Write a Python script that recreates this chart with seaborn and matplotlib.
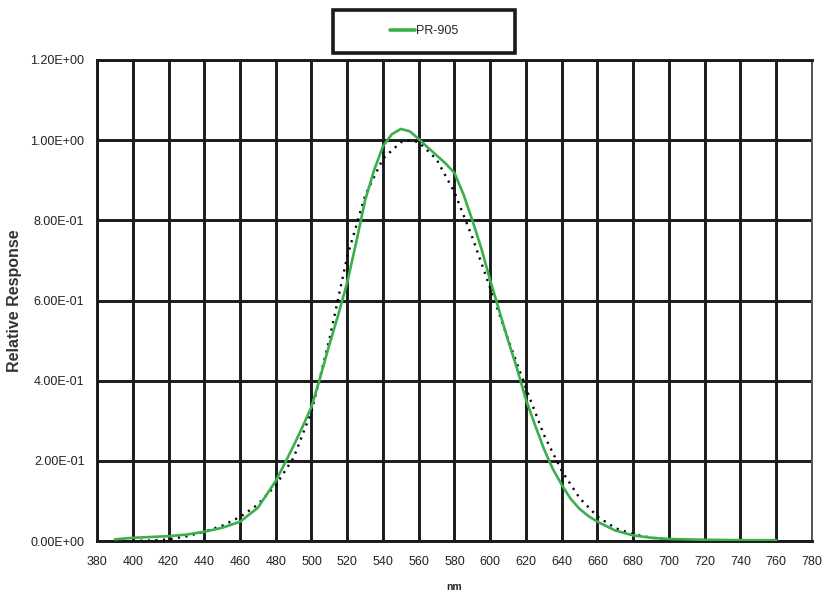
import matplotlib
matplotlib.use("Agg")
import matplotlib.pyplot as plt
import seaborn as sns
import pandas as pd
from matplotlib.patches import Rectangle
from matplotlib.ticker import FuncFormatter

# ---- data ----
wl_pr905 = [390, 400, 410, 420, 430, 440, 450, 460, 470, 480, 485, 490, 495, 500, 505,
            510, 515, 520, 525, 530, 535, 540, 545, 550, 555, 560, 565, 570, 575, 580,
            585, 590, 595, 600, 605, 610, 615, 620, 625, 630, 635, 640, 645, 650, 655,
            660, 670, 680, 690, 700, 710, 720, 740, 760]
pr905 = [0.004, 0.008, 0.010, 0.012, 0.016, 0.023, 0.033, 0.048, 0.083, 0.150, 0.193,
         0.238, 0.285, 0.335, 0.41, 0.49, 0.565, 0.645, 0.745, 0.85, 0.925, 0.985, 1.015,
         1.028, 1.022, 1.003, 0.982, 0.962, 0.942, 0.918, 0.865, 0.80, 0.73, 0.65, 0.575,
         0.50, 0.43, 0.352, 0.29, 0.23, 0.18, 0.14, 0.105, 0.08, 0.062, 0.048, 0.026,
         0.014, 0.008, 0.005, 0.004, 0.003, 0.002, 0.002]

wl_ref = [400, 410, 420, 430, 440, 450, 460, 470, 480, 490, 500, 510, 520, 530, 540,
          550, 555, 560, 570, 580, 590, 600, 610, 620, 630, 640, 650, 660, 670, 680,
          690, 700, 710, 720]
ref = [0.0004, 0.0012, 0.004, 0.0116, 0.023, 0.038, 0.06, 0.091, 0.139, 0.208, 0.323,
       0.503, 0.71, 0.862, 0.954, 0.995, 1.0, 0.995, 0.952, 0.87, 0.757, 0.631, 0.503,
       0.381, 0.265, 0.175, 0.107, 0.061, 0.032, 0.017, 0.0082, 0.0041, 0.0021, 0.001]

x_ticks = list(range(380, 781, 20))
y_ticks = [0.0, 0.2, 0.4, 0.6, 0.8, 1.0, 1.2]
series_name = "PR-905"

# ---- style ----
sns.set_style("white")
plt.rcParams["font.family"] = ["Liberation Sans", "DejaVu Sans"]

W, H = 829, 598
fig = plt.figure(figsize=(W / 100, H / 100), dpi=100)
ax = fig.add_axes([97 / W, 1 - 541 / H, (812 - 97) / W, (541 - 60) / H])

df_pr = pd.DataFrame({"nm": wl_pr905, "val": pr905})
df_ref = pd.DataFrame({"nm": wl_ref, "val": ref})

grid_kw = dict(color="#1a1a1a", linewidth=2.1, zorder=1)
for xv in x_ticks:
    ax.axvline(xv, **grid_kw)
for yv in y_ticks:
    ax.axhline(yv, **grid_kw)

sns.lineplot(data=df_ref, x="nm", y="val", ax=ax, color="black",
             linewidth=1.7, dashes=False, zorder=3, legend=False)
ax.lines[-1].set_linestyle((0, (0.9, 2.3)))
sns.lineplot(data=df_pr, x="nm", y="val", ax=ax, color="#3bb04a",
             linewidth=1.9, zorder=4, label=series_name, legend=False)

ax.set_xlim(380, 780)
ax.set_ylim(0, 1.2)
ax.set_xticks(x_ticks)
ax.set_yticks(y_ticks)
ax.yaxis.set_major_formatter(FuncFormatter(lambda v, p: "{:.2E}".format(v)))
ax.tick_params(axis="both", which="major", direction="out", length=5, width=2,
               color="#1a1a1a", labelsize=9, labelcolor="#222222", pad=4)
ax.tick_params(axis="x", pad=6)

for side, sp in ax.spines.items():
    sp.set_visible(True)
    sp.set_color("#1a1a1a")
    sp.set_linewidth(2.1)
    sp.set_zorder(2)
ax.spines["right"].set_color("#555555")
ax.spines["right"].set_linewidth(1.4)

ax.set_xlabel("nm", fontsize=7.5, fontweight="bold", labelpad=10)
ax.set_ylabel("Relative Response", fontsize=11.5, fontweight="bold", labelpad=6,
              color="#333333")

# legend above the plot
handles, labels = ax.get_legend_handles_labels()
leg = fig.legend(handles, labels, loc="center", bbox_to_anchor=(424 / W, 1 - 31 / H),
                 frameon=False, fontsize=9, handlelength=2.0, handletextpad=0.1,
                 borderpad=0.0)
for ln in leg.get_lines():
    ln.set_linewidth(2.6)
fig.patches.append(Rectangle((333 / W, 1 - 53 / H), (515 - 333) / W, 43 / H,
                             transform=fig.transFigure, fill=False,
                             edgecolor="#1a1a1a", linewidth=2.6))

fig.savefig("out.png", dpi=100)
